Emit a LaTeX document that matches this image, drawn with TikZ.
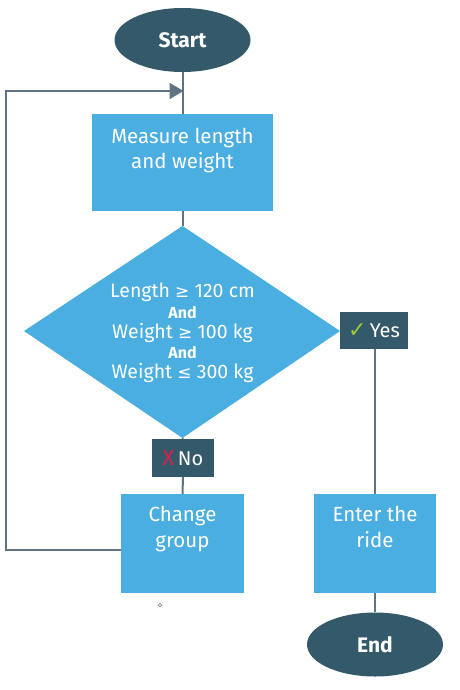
\documentclass[tikz,border=0pt]{standalone}
\usepackage{fontspec}
\setmainfont{Fira Sans}
\newfontfamily\symfont{DejaVu Sans}
\usetikzlibrary{arrows.meta,shapes.geometric}
\definecolor{darkteal}{HTML}{34596B}
\definecolor{boxblue}{HTML}{4AAEE0}
\definecolor{linegray}{HTML}{5E7482}
\definecolor{checkgreen}{HTML}{A3C83A}
\definecolor{crossred}{HTML}{D62150}
\begin{document}
\begin{tikzpicture}[x=1pt,y=-1pt,
  term/.style={ellipse,fill=darkteal,draw=none,minimum width=136pt,minimum height=64pt,inner sep=0pt,text=white,font=\fontsize{21}{24}\selectfont\bfseries},
  procbox/.style={rectangle,fill=boxblue,draw=none,inner sep=0pt},
  tag/.style={rectangle,fill=darkteal,draw=none,inner sep=0pt,text=white,font=\fontsize{20}{22}\selectfont},
  btxt/.style={anchor=base,text=white,inner sep=0pt,font=\fontsize{20.5}{24}\selectfont},
  dtxt/.style={anchor=base,text=white,inner sep=0pt,font=\fontsize{19.5}{22}\selectfont},
  andtxt/.style={anchor=base,text=white,inner sep=0pt,font=\fontsize{16}{18}\selectfont\bfseries},
  conn/.style={draw=linegray,line width=2pt}]
\useasboundingbox (0,0) rectangle (459,690);
% nodes
\node[term] (start) at (182.5,40) {Start};
\node[procbox,minimum width=181pt,minimum height=97pt] (measure) at (182.5,162.5) {};
\node[btxt] (m1) at (182.5,143) {Measure length};
\node[btxt] (m2) at (182.5,168) {and weight};
% diamond
\coordinate (dtop) at (182.5,226);
\coordinate (dright) at (340,331);
\coordinate (dbottom) at (182.5,438);
\coordinate (dleft) at (24,331);
\fill[boxblue] (dtop) -- (dright) -- (dbottom) -- (dleft) -- cycle;
\node[dtxt] (l1) at (182.5,297) {Length {\symfont\fontsize{17}{20}\selectfont≥} 120 cm};
\node[andtxt] (l2) at (182.5,318) {And};
\node[dtxt] (l3) at (182.5,338) {Weight {\symfont\fontsize{17}{20}\selectfont≥} 100 kg};
\node[andtxt] (l4) at (182.5,358) {And};
\node[dtxt] (l5) at (182.5,378) {Weight {\symfont\fontsize{17}{20}\selectfont≤} 300 kg};
% tags
\node[tag,minimum width=68pt,minimum height=37pt] (yes) at (374,330.5) {{\color{checkgreen}\symfont\bfseries\fontsize{22}{22}\selectfont ✓}\,Yes};
\node[tag,minimum width=62pt,minimum height=38pt] (no) at (183,458) {{\color{crossred}\fontsize{22}{22}\selectfont X}\,No};
% lower boxes
\node[procbox,minimum width=123pt,minimum height=99pt] (change) at (182.5,543.5) {};
\node[btxt] (c1) at (182.5,521) {Change};
\node[btxt] (c2) at (182.5,547) {group};
\node[procbox,minimum width=122pt,minimum height=99pt] (enter) at (375,543.5) {};
\node[btxt] (e1) at (375,521) {Enter the};
\node[btxt] (e2) at (375,547) {ride};
\node[term] (end) at (375,644.5) {End};
% tiny mark
\node[circle,draw=violet!40!gray!70,line width=0.7pt,minimum size=3.5pt,inner sep=0pt] (dot) at (160,605) {};
% connectors
\draw[conn] (start.south) -- (measure.north);
\draw[conn] (measure.south) -- (dtop);
\draw[conn] (dbottom) -- (no.north);
\draw[conn] (no.south) -- (change.north);
\draw[conn] (yes.south -| enter.north) -- (enter.north);
\draw[conn] (enter.south) -- (end.north);
\coordinate (lc1) at (6,550);
\coordinate (lc2) at (6,91);
\draw[conn,-{Triangle[length=14pt,width=16pt]},shorten >=-1pt] (lc1 -| change.west) -- (lc1) -- (lc2) -- (lc2 -| start.south);
\end{tikzpicture}
\end{document}
